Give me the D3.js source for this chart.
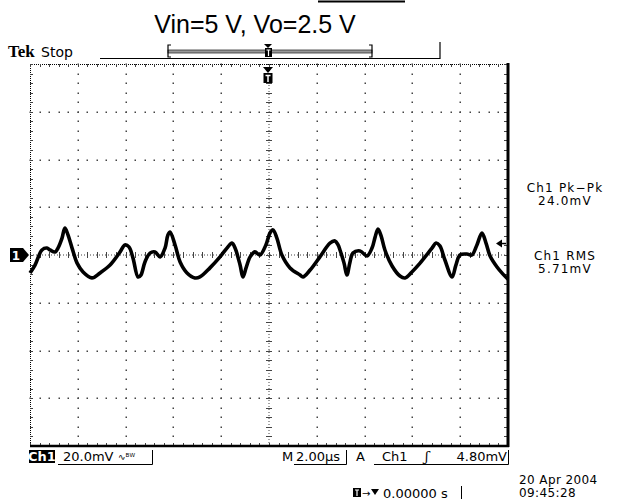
<!DOCTYPE html>
<html><head><meta charset="utf-8">
<script src="https://cdn.jsdelivr.net/npm/d3@7"></script>
<style>body{margin:0;background:#fff}svg{display:block}</style>
</head><body>
<svg id="c" width="617" height="500"></svg>
<script>
// ---- data ----
const title = "Vin=5 V, Vo=2.5 V";
const timeUs = [-10.00,-9.79,-9.50,-9.29,-9.16,-8.95,-8.83,-8.66,-8.54,-8.41,-8.24,-8.03,-7.78,-7.41,-7.07,-6.65,-6.23,-6.03,-5.86,-5.69,-5.48,-5.36,-5.19,-4.98,-4.77,-4.56,-4.35,-4.23,-4.14,-3.93,-3.72,-3.43,-3.10,-2.89,-2.47,-2.05,-1.76,-1.55,-1.42,-1.21,-1.09,-0.96,-0.79,-0.59,-0.38,-0.13,0.04,0.17,0.33,0.54,0.88,1.30,1.42,1.72,2.13,2.55,2.76,2.89,2.97,3.14,3.26,3.39,3.51,3.81,4.10,4.31,4.44,4.56,4.69,4.85,5.15,5.48,5.69,5.98,6.32,6.82,6.99,7.15,7.36,7.66,7.82,7.99,8.28,8.49,8.70,8.91,9.08,9.25,9.54,9.79,10.00];
const mV = [-7.5,-4.2,2.1,2.9,2.1,1.3,2.9,7.1,11.3,8.4,2.9,-3.4,-7.1,-9.6,-7.5,-4.2,1.3,4.2,3.4,-1.3,-9.2,-8.4,-2.9,0.8,1.3,-0.8,2.9,8.4,9.6,4.2,-2.9,-7.5,-9.6,-9.2,-5.4,-0.8,2.9,5.0,2.9,-4.2,-9.2,-5.4,-0.8,1.3,0.0,4.2,9.2,10.5,7.1,0.0,-5.4,-8.4,-9.2,-6.3,-0.8,5.0,5.9,4.2,2.1,-3.4,-8.4,-2.9,0.8,1.7,-0.4,2.9,7.5,10.9,8.0,2.1,-4.6,-8.8,-9.6,-7.1,-3.4,2.9,5.0,3.8,-2.1,-9.2,-4.2,0.0,0.4,0.0,4.2,9.2,5.0,-0.4,-5.0,-8.0,-10.1];
const timeDomain = [-10, 10];      // 2.00 µs/div, 10 div
const voltDomain = [-80, 80];      // 20.0 mV/div, 8 div
const measLabels = ["Ch1 Pk\u2212Pk", "24.0mV", "Ch1 RMS", "5.71mV"];
const chLabel = "Ch1", voltDiv = "20.0mV", timeDiv = "2.00\u00b5s", trigLevel = "4.80mV";
const dateLabel = "20 Apr  2004", timeLabel = "09:45:28", trigPos = "0.00000 s";

const svg = d3.select("#c");
const L = 30, R = 508, T = 64, B = 446;
const x = d3.scaleLinear().domain(timeDomain).range([L, R]);
const y = d3.scaleLinear().domain(voltDomain).range([B, T]);
const tf = "'DejaVu Sans', sans-serif";

// title
svg.append("line").attr("x1",318).attr("x2",405).attr("y1",1.5).attr("y2",1.5).attr("stroke","#000").attr("stroke-width",2);
svg.append("text").attr("x",255).attr("y",33).attr("text-anchor","middle")
  .attr("font-family","'Liberation Sans', Arial, sans-serif").attr("font-size",25).text(title);

// header
svg.append("text").attr("x",8).attr("y",57).attr("font-family","'Liberation Serif', serif").attr("font-weight","bold").attr("font-size",17).text("Tek");
svg.append("text").attr("x",41).attr("y",57).attr("font-family",tf).attr("font-size",14).text("Stop");
svg.append("line").attr("x1",100).attr("x2",440).attr("y1",58.5).attr("y2",58.5).attr("stroke","#000").attr("stroke-width",1.2);
svg.append("line").attr("x1",440).attr("x2",440).attr("y1",42).attr("y2",59).attr("stroke","#000").attr("stroke-width",1.2);
// record bracket
svg.append("rect").attr("x",168).attr("y",50).attr("width",204).attr("height",3).attr("fill","#999").attr("stroke","#333").attr("stroke-width",0.8);
svg.append("path").attr("d","M171,45 H168 V57 H171 M369,45 H372 V57 H369").attr("fill","none").attr("stroke","#000").attr("stroke-width",1.2);
svg.append("path").attr("d","M264,44 L272,44 L268,48 Z").attr("fill","#000");
svg.append("rect").attr("x",265).attr("y",48).attr("width",7).attr("height",9).attr("fill","#000");
svg.append("path").attr("d","M266.5,50 H270.5 M268.5,50 V56").attr("stroke","#fff").attr("stroke-width",1.2);

// grid
const g = svg.append("g");
const xMinor = d3.range(timeDomain[0], timeDomain[1] + 0.001, 0.4);
const yMinor = d3.range(voltDomain[0], voltDomain[1] + 0.001, 4);
const xMajor = d3.range(timeDomain[0] + 2, timeDomain[1] - 0.001, 2);
const yMajor = d3.range(voltDomain[0] + 20, voltDomain[1] - 0.001, 20);
const dotCol = "#444";
xMajor.filter(v => v !== 0).forEach(v => {
  g.selectAll(null).data(yMinor).join("rect")
    .attr("x", Math.round(x(v)) - 0.5).attr("y", d => Math.round(y(d)) - 0.5).attr("width",1.5).attr("height",1.5).attr("fill",dotCol);
});
yMajor.filter(v => v !== 0).forEach(v => {
  g.selectAll(null).data(xMinor).join("rect")
    .attr("x", d => Math.round(x(d)) - 0.5).attr("y", Math.round(y(v)) - 0.5).attr("width",1.5).attr("height",1.5).attr("fill",dotCol);
});
// centre lines: dense dots + ticks
g.append("line").attr("x1",L).attr("x2",R).attr("y1",y(0)).attr("y2",y(0)).attr("stroke",dotCol).attr("stroke-dasharray","1,2");
g.append("line").attr("x1",x(0)).attr("x2",x(0)).attr("y1",T).attr("y2",B).attr("stroke",dotCol).attr("stroke-dasharray","1,2");
g.selectAll(null).data(xMinor).join("line")
  .attr("x1", d => Math.round(x(d))+0.5).attr("x2", d => Math.round(x(d))+0.5).attr("y1", y(0)-3).attr("y2", y(0)+3).attr("stroke",dotCol);
g.selectAll(null).data(yMinor).join("line")
  .attr("y1", d => Math.round(y(d))+0.5).attr("y2", d => Math.round(y(d))+0.5).attr("x1", x(0)-3).attr("x2", x(0)+3).attr("stroke",dotCol);
// borders
g.append("line").attr("x1",L).attr("x2",R).attr("y1",T+0.5).attr("y2",T+0.5).attr("stroke","#000").attr("stroke-dasharray","1,1");
g.append("line").attr("x1",L+0.5).attr("x2",L+0.5).attr("y1",T).attr("y2",B).attr("stroke","#000").attr("stroke-dasharray","1,1");
g.selectAll(null).data(xMinor).join("line")
  .attr("x1", d => Math.round(x(d))+0.5).attr("x2", d => Math.round(x(d))+0.5).attr("y1", T).attr("y2", T+3).attr("stroke",dotCol);
g.selectAll(null).data(xMinor).join("line")
  .attr("x1", d => Math.round(x(d))+0.5).attr("x2", d => Math.round(x(d))+0.5).attr("y1", B-3).attr("y2", B).attr("stroke",dotCol);
g.selectAll(null).data(yMinor).join("line")
  .attr("y1", d => Math.round(y(d))+0.5).attr("y2", d => Math.round(y(d))+0.5).attr("x1", L).attr("x2", L+3).attr("stroke",dotCol);
g.selectAll(null).data(yMinor).join("line")
  .attr("y1", d => Math.round(y(d))+0.5).attr("y2", d => Math.round(y(d))+0.5).attr("x1", R-4).attr("x2", R).attr("stroke",dotCol);
g.append("line").attr("x1",L).attr("x2",R+1).attr("y1",B).attr("y2",B).attr("stroke","#000").attr("stroke-width",2.5);
g.append("line").attr("x1",R).attr("x2",R).attr("y1",T-1).attr("y2",B+1).attr("stroke","#000").attr("stroke-width",3);

// trace
const pts = timeUs.map((t,i) => [t, mV[i]]);
const line = d3.line().x(d => x(d[0])).y(d => y(d[1])).curve(d3.curveCatmullRom.alpha(0.5));
svg.append("path").datum(pts).attr("d", line).attr("fill","none").attr("stroke","#000")
  .attr("stroke-width",3.6).attr("stroke-linejoin","round").attr("stroke-linecap","butt");

// markers
const yz = y(0), xt = x(0) - 1;
svg.append("path").attr("d",`M10,${yz-7} H23 L29,${yz} L23,${yz+7} H10 Z`).attr("fill","#000");
svg.append("text").attr("x",16).attr("y",yz+5).attr("text-anchor","middle").attr("fill","#fff").attr("font-family",tf).attr("font-weight","bold").attr("font-size",12).text("1");
svg.append("path").attr("d",`M${xt-5},67 H${xt+5} L${xt},73 Z`).attr("fill","#000");
svg.append("rect").attr("x",xt-4.5).attr("y",73).attr("width",9).attr("height",10).attr("fill","#000");
svg.append("path").attr("d",`M${xt-2.5},75.5 H${xt+2.5} M${xt},75.5 V82`).attr("stroke","#fff").attr("stroke-width",1.5);
// trigger level arrow at right
svg.append("path").attr("d",`M496,${y(4.8)} L502,${y(4.8)-4} L502,${y(4.8)+4} Z`).attr("fill","#000");
svg.append("line").attr("x1",500).attr("x2",506).attr("y1",y(4.8)).attr("y2",y(4.8)).attr("stroke","#000").attr("stroke-width",1.5);

// measurements
const mY = [192, 205, 260, 273];
measLabels.forEach((s,i) => svg.append("text").attr("x",565).attr("y",mY[i]).attr("text-anchor","middle")
  .attr("font-family",tf).attr("font-size",12).attr("letter-spacing",1.2).text(s));

// bottom status
svg.append("rect").attr("x",29).attr("y",450).attr("width",26).attr("height",13).attr("fill","#000");
svg.append("text").attr("x",42).attr("y",461).attr("text-anchor","middle").attr("fill","#fff").attr("font-family",tf).attr("font-weight","bold").attr("font-size",13).text(chLabel);
svg.append("text").attr("x",63).attr("y",461).attr("font-family",tf).attr("font-size",13).text(voltDiv);
svg.append("text").attr("x",118).attr("y",460).attr("font-family",tf).attr("font-size",9).text("\u223f\u1d2e\u1d42");
svg.append("path").attr("d","M58,464.5 H152.5 V450").attr("fill","none").attr("stroke","#000").attr("stroke-width",1);
svg.append("text").attr("x",282).attr("y",461).attr("font-family",tf).attr("font-size",13).text("M");
svg.append("text").attr("x",296).attr("y",461).attr("font-family",tf).attr("font-size",13).text(timeDiv);
svg.append("path").attr("d","M294,464.5 H346.5 V450").attr("fill","none").attr("stroke","#000").attr("stroke-width",1);
svg.append("text").attr("x",356).attr("y",461).attr("font-family",tf).attr("font-size",13).text("A");
svg.append("text").attr("x",382).attr("y",461).attr("font-family",tf).attr("font-size",13).text(chLabel);
svg.append("text").attr("x",425).attr("y",461).attr("font-family","'DejaVu Serif', serif").attr("font-style","italic").attr("font-size",13).text("\u0283");
svg.append("text").attr("x",507).attr("y",461).attr("text-anchor","end").attr("font-family",tf).attr("font-size",13).text(trigLevel);
svg.append("path").attr("d","M374,464.5 H508.5 V450").attr("fill","none").attr("stroke","#000").attr("stroke-width",1);
svg.append("text").attr("x",519).attr("y",484).attr("font-family",tf).attr("font-size",12).attr("letter-spacing",0.4).text(dateLabel);
svg.append("text").attr("x",519).attr("y",497).attr("font-family",tf).attr("font-size",12).attr("letter-spacing",0.4).text(timeLabel);
// trigger position readout
svg.append("rect").attr("x",353).attr("y",488).attr("width",8).attr("height",9).attr("fill","#000");
svg.append("path").attr("d","M355,490 H359 M357,490 V496").attr("stroke","#fff").attr("stroke-width",1.2);
svg.append("text").attr("x",362).attr("y",497).attr("font-family",tf).attr("font-size",10).text("\u2192");
svg.append("path").attr("d","M371,489 H379 L375,495 Z").attr("fill","#000");
svg.append("text").attr("x",383).attr("y",498).attr("font-family",tf).attr("font-size",13).text(trigPos);
svg.append("line").attr("x1",461.5).attr("x2",461.5).attr("y1",486).attr("y2",499).attr("stroke","#000");
</script>
</body></html>
